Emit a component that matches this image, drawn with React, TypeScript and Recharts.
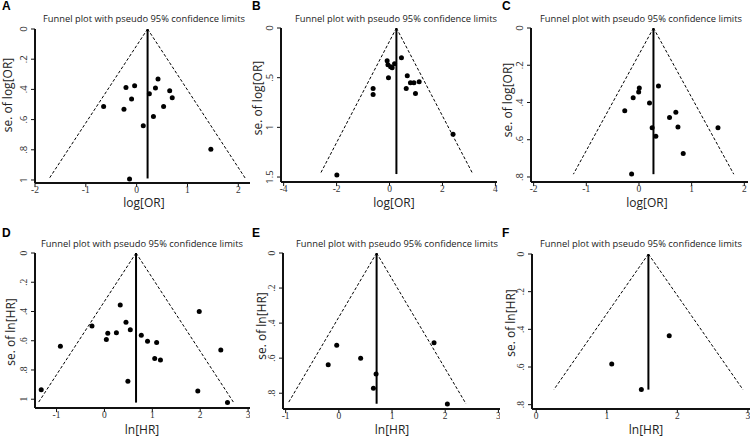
import React from 'react';
import { ComposedChart, Scatter, XAxis, YAxis, ReferenceLine } from 'recharts';

// ---------- data ----------
const panelLetters = ['A', 'B', 'C', 'D', 'E', 'F'];
const titleText = 'Funnel plot with pseudo 95% confidence limits';
const xAxisLabels = ['log[OR]', 'log[OR]', 'log[OR]', 'ln[HR]', 'ln[HR]', 'ln[HR]'];
const yAxisLabels = ['se. of log[OR]', 'se. of log[OR]', 'se. of log[OR]', 'se. of ln[HR]', 'se. of ln[HR]', 'se. of ln[HR]'];

const aEffect = [-0.65, -0.21, -0.04, -0.10, -0.25, 0.42, 0.37, 0.25, 0.65, 0.70, 0.53, 0.33, 0.13, 1.46, -0.14];
const aSe = [0.513, 0.387, 0.376, 0.464, 0.531, 0.331, 0.391, 0.429, 0.409, 0.456, 0.513, 0.58, 0.64, 0.796, 0.993];

const bEffect = [-0.09, -0.06, 0.04, 0.10, 0.19, 0.45, -0.04, 0.67, 0.79, 0.92, 1.12, 0.63, 0.98, -0.62, -0.62, 2.40, -1.99];
const bSe = [0.33, 0.37, 0.39, 0.40, 0.36, 0.30, 0.50, 0.48, 0.55, 0.55, 0.54, 0.61, 0.66, 0.61, 0.67, 1.07, 1.48];

const cEffect = [0.37, 0.006, -0.006, -0.11, 0.20, -0.27, 0.70, 0.58, 0.74, 1.50, 0.25, 0.32, 0.84, -0.14];
const cSe = [0.311, 0.322, 0.344, 0.374, 0.403, 0.444, 0.453, 0.48, 0.531, 0.536, 0.536, 0.581, 0.674, 0.784];

const dEffect = [0.33, 0.45, 0.54, 0.25, 0.07, 0.04, -0.26, -0.92, 0.77, 0.90, 1.09, 1.05, 1.17, 0.49, -1.32, 1.98, 2.43, 1.95, 2.57];
const dSe = [0.356, 0.473, 0.525, 0.546, 0.548, 0.591, 0.50, 0.637, 0.562, 0.603, 0.612, 0.721, 0.731, 0.877, 0.936, 0.40, 0.664, 0.943, 1.023];

const eEffect = [-0.04, -0.20, 0.41, 0.70, 0.65, 1.79, 2.04];
const eSe = [0.526, 0.638, 0.60, 0.69, 0.771, 0.512, 0.861];

const fEffect = [1.885, 1.07, 1.49];
const fSe = [0.434, 0.584, 0.719];

const pooledEffect = [0.215, 0.26, 0.275, 0.66, 0.71, 1.59];
const funnelSeMax = [0.99, 1.47, 0.785, 1.023, 0.86, 0.72];
const funnelLower = [-1.72, -2.62, -1.245, -1.38, -0.96, 0.25];
const funnelUpper = [2.14, 3.15, 1.80, 2.70, 2.39, 2.93];

const xTicks = [[-2, -1, 0, 1, 2], [-4, -2, 0, 2, 4], [-2, -1, 0, 1, 2], [-1, 0, 1, 2, 3], [-1, 0, 1, 2, 3], [0, 1, 2, 3]];
const yTicks = [[0, 0.2, 0.4, 0.6, 0.8, 1], [0, 0.5, 1, 1.5], [0, 0.2, 0.4, 0.6, 0.8], [0, 0.2, 0.4, 0.6, 0.8, 1], [0, 0.2, 0.4, 0.6, 0.8], [0, 0.2, 0.4, 0.6, 0.8]];
const xDomains = [[-2, 2.23], [-4.1, 4.06], [-2.05, 2.07], [-1.45, 3.04], [-1.05, 3.03], [-0.06, 3.03]];
const yDomains = [[0, 1.02], [0, 1.55], [0, 0.827], [0, 1.06], [0, 0.89], [0, 0.823]];

const effects = [aEffect, bEffect, cEffect, dEffect, eEffect, fEffect];
const ses = [aSe, bSe, cSe, dSe, eSe, fSe];

// ---------- layout ----------
const layouts = [
  { left: 0, top: 0, W: 35, T: 29, H: 37, R: 0, serifY: false },
  { left: 250, top: 0, W: 31, T: 28, H: 38, R: 3, serifY: false },
  { left: 500, top: 0, W: 31, T: 28, H: 38, R: 2, serifY: false },
  { left: 0, top: 220, W: 35, T: 33, H: 32, R: 0, serifY: true },
  { left: 250, top: 220, W: 33, T: 33, H: 31, R: 0, serifY: true },
  { left: 500, top: 220, W: 32, T: 34, H: 31, R: 0, serifY: true },
];

const textLayouts = [
  { letterX: 2, letterY: 10, titleX: 144, titleY: 22, ylX: 12, ylY: 95, xlX: 144, xlY: 207 },
  { letterX: 252, letterY: 10, titleX: 396, titleY: 22, ylX: 262, ylY: 98, xlX: 394, xlY: 207 },
  { letterX: 502, letterY: 10, titleX: 641, titleY: 22, ylX: 512, ylY: 100, xlX: 647, xlY: 207 },
  { letterX: 2, letterY: 237, titleX: 142, titleY: 247, ylX: 15, ylY: 332, xlX: 142, xlY: 434 },
  { letterX: 252, letterY: 237, titleX: 397, titleY: 247, ylX: 266, ylY: 326, xlX: 392, xlY: 434 },
  { letterX: 502, letterY: 237, titleX: 641, titleY: 247, ylX: 515, ylY: 323, xlX: 646, xlY: 434 },
];

const SANS = '"Open Sans", "DejaVu Sans", sans-serif';
const SERIF = '"Liberation Serif", "DejaVu Serif", serif';

const fmtY = (v: number) => {
  if (v === 0) return '0';
  const s = String(v);
  return s.startsWith('0.') ? s.slice(1) : s;
};

const makeYTick = (font: string) => (props: any) => {
  const { x, y, payload } = props;
  return (
    <text
      x={x}
      y={y}
      transform={`rotate(-90 ${x} ${y})`}
      textAnchor="middle"
      fontSize={9.5}
      fill="#333"
      fontFamily={font}
    >
      {fmtY(payload.value)}
    </text>
  );
};

const XTick = (props: any) => {
  const { x, y, payload } = props;
  return (
    <text x={x} y={y + 5} textAnchor="middle" fontSize={9.5} fill="#333" fontFamily={SERIF}>
      {String(payload.value)}
    </text>
  );
};

const Dot = (p: any) => <circle cx={p.cx} cy={p.cy} r={2.5} fill="#000" />;

const Panel = ({ i }: { i: number }) => {
  const L = layouts[i];
  const yFont = L.serifY ? SERIF : SANS;
  const data = effects[i].map((e, k) => ({ effect: e, se: ses[i][k] }));
  const c = pooledEffect[i];
  const sm = funnelSeMax[i];
  return (
    <div style={{ position: 'absolute', left: L.left, top: L.top, width: 250, height: 220 }}>
      <ComposedChart
        width={250}
        height={220}
        margin={{ top: L.T, right: L.R, left: 0, bottom: 0 }}
      >
        <XAxis
          type="number"
          dataKey="effect"
          domain={xDomains[i]}
          ticks={xTicks[i]}
          allowDataOverflow
          height={L.H}
          axisLine={{ stroke: '#111', strokeWidth: 2 }}
          tickLine={{ stroke: '#111', strokeWidth: 1 }}
          tickSize={4}
          tickMargin={1}
          tick={XTick}
          interval={0}
        />
        <YAxis
          type="number"
          dataKey="se"
          domain={yDomains[i]}
          ticks={yTicks[i]}
          reversed
          allowDataOverflow
          width={L.W}
          axisLine={{ stroke: '#111', strokeWidth: 2 }}
          tickLine={{ stroke: '#111', strokeWidth: 1 }}
          tickSize={4}
          tickMargin={4}
          tick={makeYTick(yFont)}
          interval={0}
        />
        <ReferenceLine
          segment={[{ x: c, y: 0 }, { x: funnelLower[i], y: sm }]}
          stroke="#000"
          strokeWidth={1}
          strokeDasharray="3 2"
          ifOverflow="visible"
        />
        <ReferenceLine
          segment={[{ x: c, y: 0 }, { x: funnelUpper[i], y: sm }]}
          stroke="#000"
          strokeWidth={1}
          strokeDasharray="3 2"
          ifOverflow="visible"
        />
        <ReferenceLine
          segment={[{ x: c, y: 0 }, { x: c, y: sm }]}
          stroke="#000"
          strokeWidth={2}
          ifOverflow="visible"
        />
        <Scatter data={data} dataKey="se" shape={Dot} isAnimationActive={false} />
      </ComposedChart>
    </div>
  );
};

export default function App() {
  return (
    <div style={{ position: 'absolute', left: 0, top: 0, width: 750, height: 440, background: '#fff', overflow: 'hidden' }}>
      {panelLetters.map((_, i) => (
        <Panel key={i} i={i} />
      ))}
      <svg width={750} height={440} style={{ position: 'absolute', left: 0, top: 0, pointerEvents: 'none' }}>
        {textLayouts.map((t, i) => (
          <g key={i}>
            <text x={t.letterX} y={t.letterY} fontSize={12} fontWeight="bold" fontFamily='"Liberation Sans", Arial, sans-serif' fill="#000">
              {panelLetters[i]}
            </text>
            <text
              x={t.titleX}
              y={t.titleY}
              textAnchor="middle"
              fontSize={9}
              fontFamily={SANS}
              fill="#222"
              textLength={202}
              lengthAdjust="spacingAndGlyphs"
            >
              {titleText}
            </text>
            <text
              x={t.ylX}
              y={t.ylY}
              textAnchor="middle"
              transform={`rotate(-90 ${t.ylX} ${t.ylY})`}
              fontSize={12}
              fontFamily={SANS}
              fill="#222"
            >
              {yAxisLabels[i]}
            </text>
            <text x={t.xlX} y={t.xlY} textAnchor="middle" fontSize={12} fontFamily={SANS} fill="#222">
              {xAxisLabels[i]}
            </text>
          </g>
        ))}
      </svg>
    </div>
  );
}
